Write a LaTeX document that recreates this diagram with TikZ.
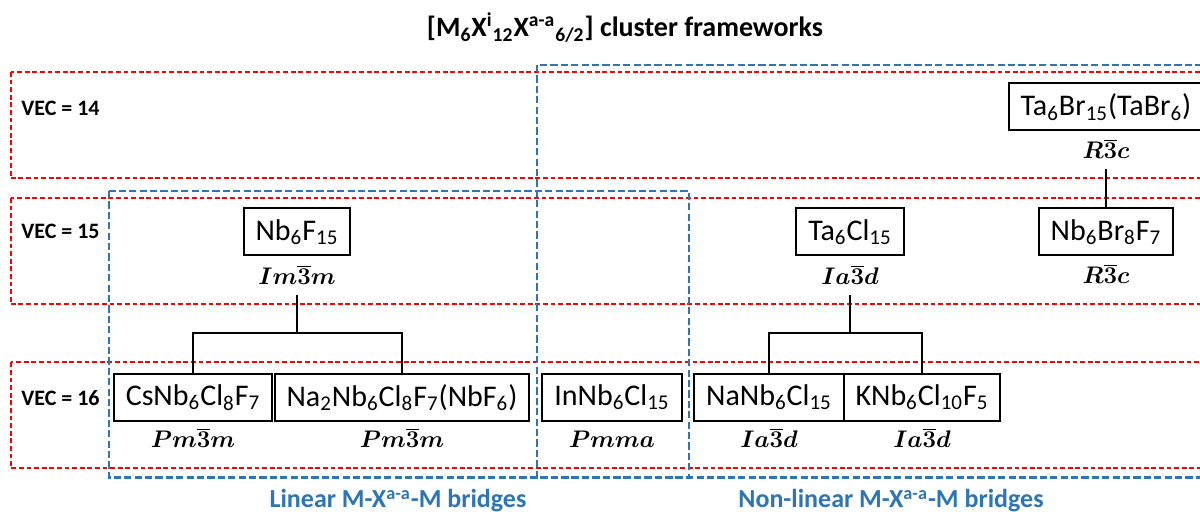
\documentclass[tikz,border=0pt]{standalone}
\usepackage{fontspec}
\setmainfont{Carlito}
\usepackage{amsmath}
\definecolor{vecred}{RGB}{255,0,0}
\definecolor{bridgeblue}{RGB}{46,117,182}

\begin{document}
\begin{tikzpicture}[x=0.5pt, y=-0.5pt,
		vecrow/.style={draw=vecred, line width=1pt, dash pattern=on 2.4pt off 1.4pt},
		bridgebox/.style={draw=bridgeblue, line width=1.1pt, dash pattern=on 3.6pt off 1.6pt},
		veclabel/.style={font=\fontsize{11}{13}\selectfont\bfseries, inner sep=0pt, anchor=base west},
		cmpd/.style={draw, line width=1pt, minimum height=23.5pt, inner xsep=6pt, font=\fontsize{15}{18}\selectfont},
		sg/.style={font=\fontsize{12}{15}\selectfont, inner sep=3pt, anchor=base},
		link/.style={line width=1pt},
		bridgelabel/.style={text=bridgeblue, font=\fontsize{13}{15}\selectfont\bfseries, inner sep=0pt, anchor=base}]
	%Bildbereich (Rand rechts wird abgeschnitten)
	\useasboundingbox (0,0) rectangle (1200,512);
	% Verbindungen
	\node[cmpd] (nbf) at (297,232) {Nb\textsubscript{6}F\textsubscript{15}};
	\node[cmpd] (tcl) at (850,232) {Ta\textsubscript{6}Cl\textsubscript{15}};
	\node[cmpd] (nbbr) at (1106,232) {Nb\textsubscript{6}Br\textsubscript{8}F\textsubscript{7}};
	\node[cmpd] (tbr) at (1106,107) {Ta\textsubscript{6}Br\textsubscript{15}(TaBr\textsubscript{6})};
	\node[cmpd] (cs) at (193,397.5) {CsNb\textsubscript{6}Cl\textsubscript{8}F\textsubscript{7}};
	\node[cmpd] (na2) at (402,397.5) {Na\textsubscript{2}Nb\textsubscript{6}Cl\textsubscript{8}F\textsubscript{7}(NbF\textsubscript{6})};
	\node[cmpd] (incl) at (612,397.5) {InNb\textsubscript{6}Cl\textsubscript{15}};
	\node[cmpd] (nacl) at (769,397.5) {NaNb\textsubscript{6}Cl\textsubscript{15}};
	\node[cmpd] (kcl) at (922,397.5) {KNb\textsubscript{6}Cl\textsubscript{10}F\textsubscript{5}};
	% VEC-Zeilen
	\draw[vecrow] (10.5,362.5) rectangle (1206,468);
	\draw[vecrow] (10.5,198) rectangle (1206,304);
	\draw[vecrow] (10.5,72) rectangle (1206,178);
	\foreach \vec/\ybase in {14/116, 15/239, 16/406}
		\node[veclabel] (vec\vec) at (21,\ybase) {VEC = \vec};
	% Titel
	\node[font=\fontsize{14}{17}\selectfont\bfseries, anchor=base, inner sep=0pt] (title) at (625,37)
		{[M\textsubscript{6}X\textsuperscript{i}\textsubscript{12}X\textsuperscript{a-a}\textsubscript{6/2}] cluster frameworks};
	% Bruecken
	\draw[bridgebox] (537,65) rectangle (1206,477.5);
	\draw[bridgebox] (109,191) rectangle (689,477.5);
	% Raumgruppen
	\node[sg] (nbfsg) at (297,285) {$\boldsymbol{Im\overline{3}m}$};
	\node[sg] (tclsg) at (850,285) {$\boldsymbol{Ia\overline{3}d}$};
	\node[sg] (nbbrsg) at (1106,284) {$\boldsymbol{R\overline{3}c}$};
	\node[sg] (tbrsg) at (1106,159) {$\boldsymbol{R\overline{3}c}$};
	\node[sg] (cssg) at (193,448) {$\boldsymbol{Pm\overline{3}m}$};
	\node[sg] (na2sg) at (402,448) {$\boldsymbol{Pm\overline{3}m}$};
	\node[sg] (inclsg) at (612,448) {$\boldsymbol{Pmma}$};
	\node[sg] (naclsg) at (769,448) {$\boldsymbol{Ia\overline{3}d}$};
	\node[sg] (kclsg) at (922,448) {$\boldsymbol{Ia\overline{3}d}$};
	% Baeume
	\coordinate (lbar) at (297,333);
	\draw[link] (nbfsg.south) ++(0,4) -- (lbar) -| (cs.north);
	\draw[link] (lbar) -| (na2.north);
	\coordinate (rbar) at (850,333);
	\draw[link] (tclsg.south) ++(0,4) -- (rbar) -| (nacl.north);
	\draw[link] (rbar) -| (kcl.north);
	\draw[link] (tbrsg.south) ++(0,4) -- (nbbr.north);
	% Beschriftung
	\node[bridgelabel] (linear) at (398,508) {Linear M-X\textsuperscript{a-a}-M bridges};
	\node[bridgelabel] (nonlinear) at (891,508) {Non-linear M-X\textsuperscript{a-a}-M bridges};
\end{tikzpicture}
\end{document}
